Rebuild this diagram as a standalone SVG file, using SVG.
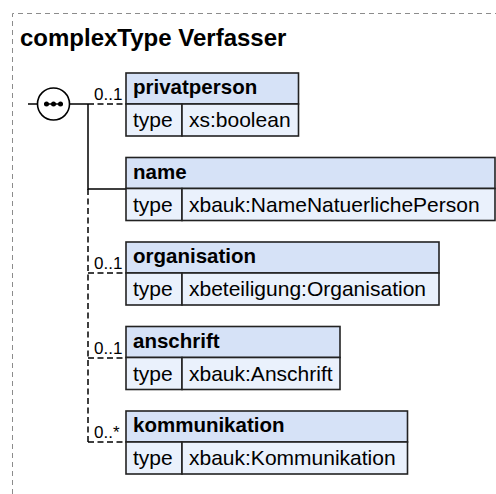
<svg xmlns="http://www.w3.org/2000/svg" width="496" height="494" viewBox="0 0 496 494">
<style>
.frame{fill:none;stroke:#8c8c8c;stroke-width:1;stroke-dasharray:5,4}
.hd{fill:#d6e2f7;stroke:#222;stroke-width:1.6}
.rw{fill:#eaf1fc;stroke:#222;stroke-width:1.6}
.ln{fill:none;stroke:#000;stroke-width:1.5}
.dl{fill:none;stroke:#000;stroke-width:1.5;stroke-dasharray:6,3.5}
.t{font-family:"Liberation Sans",Arial,sans-serif;fill:#000}
.title{font-size:24px;font-weight:bold}
.hn{font-size:20.5px;font-weight:bold}
.rv{font-size:21px}
.lab{font-size:17px}
</style>
<path class="frame" d="M12.5,494 V13.5 H496"/>
<text class="t title" x="20" y="46">complexType Verfasser</text>
<g id="connectors">
<path class="ln" d="M28,104 H38"/>
<path class="ln" d="M69,104 H88 M88,104 V189 H126"/>
<path class="dl" d="M88,104 H126"/>
<path class="dl" d="M88,189 V442 M88,273 H126 M88,358 H126 M88,442 H126"/>
<text class="t lab" x="94" y="100">0..1</text>
<text class="t lab" x="94" y="269">0..1</text>
<text class="t lab" x="94" y="354">0..1</text>
<text class="t lab" x="94" y="438">0..*</text>
</g>
<g id="sequence">
<circle cx="53.5" cy="104" r="16" fill="#fff" stroke="#000" stroke-width="1.6"/>
<path class="ln" d="M44,104 H63"/>
<circle cx="46.5" cy="104" r="2.5"/>
<circle cx="53.5" cy="104" r="2.5"/>
<circle cx="60.5" cy="104" r="2.5"/>
</g>
<g id="privatperson">
<rect class="hd" x="126" y="73" width="172.5" height="31"/>
<rect class="rw" x="126" y="104" width="56" height="32"/>
<rect class="rw" x="182" y="104" width="116.5" height="32"/>
<text class="t hn" x="133" y="94">privatperson</text>
<text class="t rv" x="133" y="127">type</text>
<text class="t rv" x="189" y="127">xs:boolean</text>
</g>
<g id="name">
<rect class="hd" x="126" y="157.5" width="369" height="31"/>
<rect class="rw" x="126" y="188.5" width="56" height="32"/>
<rect class="rw" x="182" y="188.5" width="313" height="32"/>
<text class="t hn" x="133" y="178.5">name</text>
<text class="t rv" x="133" y="211.5">type</text>
<text class="t rv" x="189" y="211.5">xbauk:NameNatuerlichePerson</text>
</g>
<g id="organisation">
<rect class="hd" x="126" y="242" width="313" height="31"/>
<rect class="rw" x="126" y="273" width="56" height="32"/>
<rect class="rw" x="182" y="273" width="257" height="32"/>
<text class="t hn" x="133" y="263">organisation</text>
<text class="t rv" x="133" y="296">type</text>
<text class="t rv" x="189" y="296">xbeteiligung:Organisation</text>
</g>
<g id="anschrift">
<rect class="hd" x="126" y="326.5" width="214" height="31"/>
<rect class="rw" x="126" y="357.5" width="56" height="32"/>
<rect class="rw" x="182" y="357.5" width="158" height="32"/>
<text class="t hn" x="133" y="347.5">anschrift</text>
<text class="t rv" x="133" y="380.5">type</text>
<text class="t rv" x="189" y="380.5">xbauk:Anschrift</text>
</g>
<g id="kommunikation">
<rect class="hd" x="126" y="411" width="281.5" height="31"/>
<rect class="rw" x="126" y="442" width="56" height="32"/>
<rect class="rw" x="182" y="442" width="225.5" height="32"/>
<text class="t hn" x="133" y="432">kommunikation</text>
<text class="t rv" x="133" y="465">type</text>
<text class="t rv" x="189" y="465">xbauk:Kommunikation</text>
</g>
</svg>
